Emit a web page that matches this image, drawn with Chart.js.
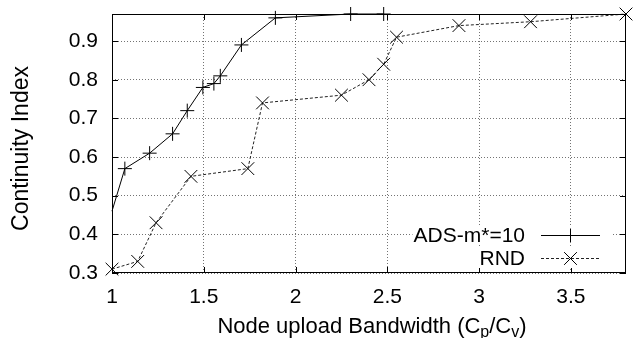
<!DOCTYPE html>
<html>
<head>
<meta charset="utf-8">
<script src="https://cdn.jsdelivr.net/npm/chart.js@4/dist/chart.umd.min.js"></script>
<style>
html,body{margin:0;padding:0;background:#fff;}
#wrap{width:636px;height:338px;}
</style>
</head>
<body>
<div id="wrap"><canvas id="c" width="636" height="338"></canvas></div>
<script>
const adsX = [1.0, 1.07, 1.205, 1.33, 1.41, 1.495, 1.555, 1.59, 1.705, 1.89, 2.3, 2.48];
const adsY = [0.46, 0.57, 0.61, 0.66, 0.72, 0.78, 0.79, 0.81, 0.89, 0.96, 0.97, 0.97];
const rndX = [1.0, 1.14, 1.24, 1.43, 1.74, 1.82, 2.25, 2.40, 2.48, 2.55, 2.89, 3.28, 3.8];
const rndY = [0.31, 0.33, 0.43, 0.55, 0.57, 0.74, 0.76, 0.80, 0.84, 0.91, 0.94, 0.95, 0.97];
const xTicks = [1, 1.5, 2, 2.5, 3, 3.5];
const yTicks = [0.3, 0.4, 0.5, 0.6, 0.7, 0.8, 0.9];
const seriesNames = ['ADS-m*=10', 'RND'];
const xTitle = ['Node upload Bandwidth (C', 'p', '/C', 'v', ')'];
const yTitle = 'Continuity Index';

const FONT = '"Liberation Sans", Arial, sans-serif';

const overlay = {
  id: 'overlay',
  afterDatasetsDraw(chart) {
    const ctx = chart.ctx, a = chart.chartArea;
    const xs = chart.scales.x, ys = chart.scales.y;
    ctx.save();
    // border
    ctx.strokeStyle = '#000'; ctx.lineWidth = 1; ctx.setLineDash([]);
    ctx.strokeRect(Math.round(a.left) + 0.5, Math.round(a.top) + 0.5, Math.round(a.right - a.left) - 1, Math.round(a.bottom - a.top) - 1);
    // mirrored inward ticks
    ctx.beginPath();
    xTicks.forEach(v => {
      const px = Math.round(xs.getPixelForValue(v)) + 0.5;
      ctx.moveTo(px, a.bottom); ctx.lineTo(px, a.bottom - 6);
      ctx.moveTo(px, a.top); ctx.lineTo(px, a.top + 6);
    });
    yTicks.forEach(v => {
      const py = Math.round(ys.getPixelForValue(v)) + 0.5;
      ctx.moveTo(a.left, py); ctx.lineTo(a.left + 6, py);
      ctx.moveTo(a.right, py); ctx.lineTo(a.right - 6, py);
    });
    ctx.stroke();

    // legend
    ctx.font = '21px ' + FONT;
    ctx.textBaseline = 'middle';
    ctx.textAlign = 'right';
    const textRight = a.right - 101;
    const s0 = a.right - 85, s1 = a.right - 26, sm = (s0 + s1) / 2;
    const rows = [a.bottom - 38, a.bottom - 15];
    const radii = [7, 9];
    chart.data.datasets.forEach((ds, i) => {
      const y = rows[i];
      const w = ctx.measureText(seriesNames[i]).width;
      ctx.fillStyle = '#fff';
      ctx.fillRect(textRight - w - 1, y - 10, (s1 + 13) - (textRight - w - 1), 20);
      ctx.fillStyle = '#000';
      ctx.fillText(seriesNames[i], textRight, y + 1);
      ctx.strokeStyle = ds.borderColor;
      ctx.lineWidth = 1;
      ctx.setLineDash(ds.borderDash || []);
      ctx.beginPath();
      ctx.moveTo(s0, Math.round(y) + 0.5); ctx.lineTo(s1, Math.round(y) + 0.5);
      ctx.stroke();
      ctx.setLineDash([]);
      ctx.strokeStyle = '#000';
      Chart.helpers.drawPoint(ctx, {pointStyle: ds.pointStyle, radius: radii[i], borderWidth: 1, rotation: 0}, sm, Math.round(y) + 0.5);
    });

    // y title
    ctx.fillStyle = '#000';
    ctx.font = '23px ' + FONT;
    ctx.textAlign = 'center';
    ctx.textBaseline = 'middle';
    ctx.save();
    ctx.translate(22, (a.top + a.bottom) / 2 + 5);
    ctx.rotate(-Math.PI / 2);
    ctx.fillText(yTitle, 0, 0);
    ctx.restore();

    // x title with subscripts
    const big = '22px ' + FONT, small = '16px ' + FONT;
    const parts = xTitle.map((t, i) => ({t, sub: i % 2 === 1}));
    let total = 0;
    parts.forEach(p => { ctx.font = p.sub ? small : big; p.w = ctx.measureText(p.t).width; total += p.w; });
    let x = (a.left + a.right) / 2 - total / 2 + 3;
    const base = 333;
    ctx.textAlign = 'left';
    ctx.textBaseline = 'alphabetic';
    parts.forEach(p => {
      ctx.font = p.sub ? small : big;
      ctx.fillText(p.t, x, p.sub ? base + 4 : base);
      x += p.w;
    });
    ctx.restore();
  }
};

new Chart(document.getElementById('c'), {
  type: 'line',
  data: {
    datasets: [
      {
        label: seriesNames[0],
        data: adsX.map((x, i) => ({x, y: adsY[i]})),
        borderColor: '#000', borderWidth: 1,
        pointStyle: 'cross',
        pointRadius: c => (c.dataIndex === 0 ? 0 : 7),
        pointBorderColor: '#000', pointBorderWidth: 1,
        pointBackgroundColor: 'transparent',
        fill: false, tension: 0, clip: false
      },
      {
        label: seriesNames[1],
        data: rndX.map((x, i) => ({x, y: rndY[i]})),
        borderColor: '#222', borderWidth: 1, borderDash: [3, 2],
        pointStyle: 'crossRot', pointRadius: 9, pointBorderColor: '#000', pointBorderWidth: 1,
        pointBackgroundColor: 'transparent',
        fill: false, tension: 0, clip: false
      }
    ]
  },
  options: {
    responsive: false,
    animation: false,
    devicePixelRatio: 1,
    layout: {padding: {top: 14, right: 5, left: 0, bottom: 0}},
    plugins: {legend: {display: false}, tooltip: {enabled: false}, title: {display: false}},
    scales: {
      x: {
        type: 'linear', min: 1, max: 3.8,
        afterBuildTicks: ax => { ax.ticks = xTicks.map(v => ({value: v})); },
        afterFit: ax => { ax.height = 65; ax.paddingLeft = 0; ax.paddingRight = 0; ax.paddingTop = 0; ax.paddingBottom = 0; },
        border: {display: false},
        grid: {color: 'rgba(0,0,0,0.55)', lineWidth: 1, drawTicks: false},
        ticks: {color: '#000', font: {family: FONT, size: 21}, padding: 12, maxRotation: 0,
                callback: v => String(v)}
      },
      y: {
        type: 'linear', min: 0.3, max: 0.97,
        afterBuildTicks: ax => { ax.ticks = yTicks.map(v => ({value: v})); },
        afterFit: ax => { ax.width = 112; ax.paddingLeft = 0; ax.paddingRight = 0; ax.paddingTop = 0; ax.paddingBottom = 0; },
        border: {display: false},
        grid: {color: 'rgba(0,0,0,0.55)', lineWidth: 1, drawTicks: false},
        ticks: {color: '#000', font: {family: FONT, size: 21}, padding: 14,
                callback: v => v.toFixed(1)}
      }
    }
  },
  plugins: [{
    id: 'dotgrid',
    beforeInit(chart) {
      chart.options.scales.x.border.dash = [1, 2];
      chart.options.scales.y.border.dash = [1, 2];
    }
  }, overlay]
});
</script>
</body>
</html>
